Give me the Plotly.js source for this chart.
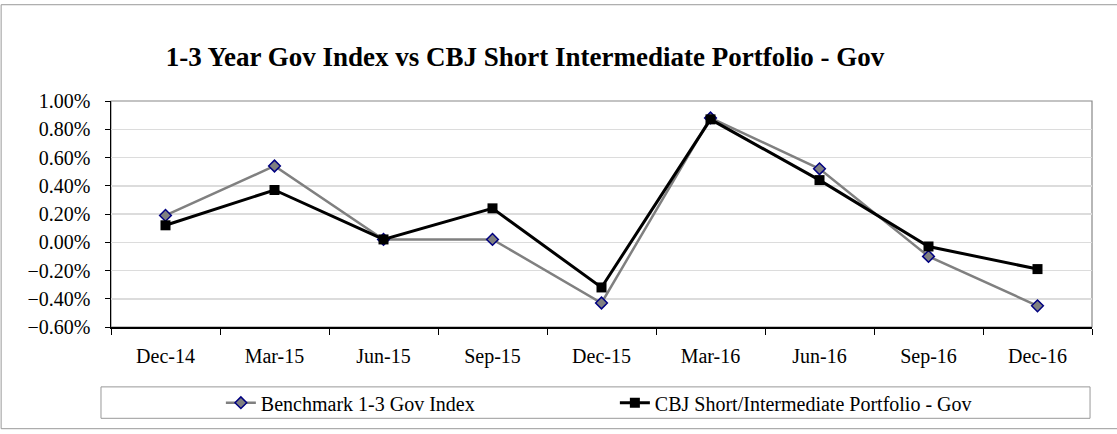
<!DOCTYPE html>
<html><head><meta charset="utf-8">
<script src="https://cdn.plot.ly/plotly-3.0.1.min.js"></script>
<style>body{margin:0;background:#fff}#c{width:1117px;height:434px}</style>
</head><body><div id="c"></div>
<script>
const categories = ["Dec-14","Mar-15","Jun-15","Sep-15","Dec-15","Mar-16","Jun-16","Sep-16","Dec-16"];
const benchmark = [0.0019,0.0054,0.0002,0.0002,-0.0043,0.0088,0.0052,-0.0010,-0.0045];
const portfolio = [0.0012,0.0037,0.0002,0.0024,-0.0032,0.0087,0.0044,-0.0003,-0.0019];
const seriesNames = ["Benchmark 1-3 Gov Index","CBJ Short/Intermediate Portfolio - Gov"];
const titleText = "1-3 Year Gov Index vs CBJ Short Intermediate Portfolio - Gov";

const fam = "'Liberation Serif', 'Times New Roman', serif";
function mk(size){ return {family:fam, size:size, color:"#000"}; }
const traces = [
 {x:categories, y:benchmark, name:seriesNames[0], type:"scatter", mode:"lines+markers",
  line:{color:"#808080", width:2.5},
  marker:{symbol:"diamond", size:9, color:"#808080", line:{color:"#000080", width:1.5}}},
 {x:categories, y:portfolio, name:seriesNames[1], type:"scatter", mode:"lines+markers",
  line:{color:"#000000", width:3},
  marker:{symbol:"square", size:10, color:"#000000"}}
];
const layout = {
 width:1117, height:434,
 margin:{l:111, r:25, t:101, b:103},
 paper_bgcolor:"#fff", plot_bgcolor:"#fff",
 font:mk(20),
 showlegend:true,
 title:{text:"<b>"+titleText+"</b>", font:mk(27),
   x:0.47, xref:"container", xanchor:"center", y:0.869, yref:"container", yanchor:"middle"},
 xaxis:{type:"category", tickson:"boundaries", ticks:"outside", ticklen:6, tickcolor:"#000",
   showline:true, linecolor:"#000", linewidth:1.5, showgrid:false, mirror:false,
   tickfont:mk(20), ticklabelstandoff:10, range:[-0.5,8.5]},
 yaxis:{range:[-0.006,0.01], dtick:0.002, tickformat:".2%", ticksuffix:"\u00a0\u00a0",
   ticks:"outside", ticklen:5, tickcolor:"#000",
   showline:true, linecolor:"#000", linewidth:1.5, showgrid:true, gridcolor:"#dcdcdc", gridwidth:1.5,
   zeroline:false, tickfont:mk(20)},
 legend:{orientation:"h", x:0.112, xanchor:"left", y:-0.335, yanchor:"middle",
   font:mk(20), bgcolor:"rgba(0,0,0,0)", entrywidth:349, entrywidthmode:"pixels"},
 shapes:[
  {type:"rect", xref:"paper", yref:"paper", x0:0, x1:1, y0:0, y1:1, line:{color:"#888", width:1.2}, layer:"below"},
  {type:"rect", xref:"paper", yref:"paper", x0:-0.0102, x1:0.998, y0:-0.404, y1:-0.265, line:{color:"#999", width:1}},
  {type:"rect", xref:"paper", yref:"paper", x0:-0.112, x1:1.03, y0:-0.45, y1:1.426, line:{color:"#999", width:1}}
 ]
};
Plotly.newPlot("c", traces, layout, {displayModeBar:false, staticPlot:true});
</script></body></html>
